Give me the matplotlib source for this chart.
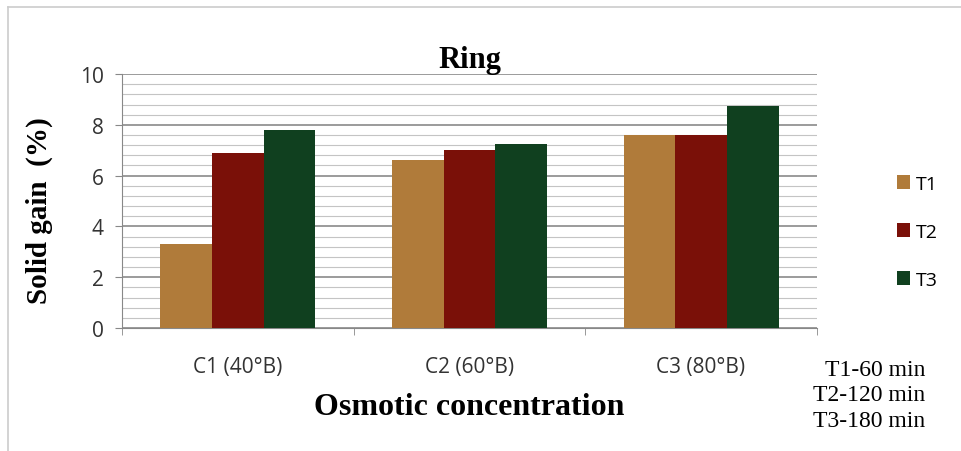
import numpy as np
import matplotlib.pyplot as plt
from matplotlib.lines import Line2D
from matplotlib.ticker import MultipleLocator

categories = ['C1 (40°B)', 'C2 (60°B)', 'C3 (80°B)']
series = ['T1', 'T2', 'T3']
t1 = [3.3, 6.6, 7.6]
t2 = [6.9, 7.0, 7.6]
t3 = [7.8, 7.25, 8.75]
colors = ['#b07b3a', '#7a1008', '#10401f']

fig = plt.figure(figsize=(9.61, 4.52), dpi=100)
ax = fig.add_axes([0.127, 0.272, 0.723, 0.562])

x = np.arange(len(categories))
w = 0.223
for i, (vals, c, lab) in enumerate(zip([t1, t2, t3], colors, series)):
    ax.bar(x + (i - 1) * w, vals, w, color=c, label=lab, zorder=3)

ax.set_xlim(-0.5, 2.5)
ax.set_ylim(0, 10)
ax.yaxis.set_major_locator(MultipleLocator(2))
ax.yaxis.set_minor_locator(MultipleLocator(0.4))
ax.grid(axis='y', which='major', color='#808080', lw=1.1, zorder=0)
ax.grid(axis='y', which='minor', color='#c4c4c4', lw=0.8, zorder=0)
ax.tick_params(axis='y', which='minor', length=0)

ax.set_xticks(x)
ax.set_xticklabels(categories)
ax.set_xticks([-0.5, 0.5, 1.5, 2.5], minor=True)
ax.tick_params(axis='x', which='major', length=0, pad=20)
ax.tick_params(axis='x', which='minor', length=5, color='#888888')
ax.tick_params(axis='y', which='major', length=5, color='#888888', pad=8)
for lbl in ax.get_xticklabels() + ax.get_yticklabels():
    lbl.set_fontfamily('Open Sans')
    lbl.set_fontsize(15)
    lbl.set_color('#333333')

for s in ['top', 'right']:
    ax.spines[s].set_visible(False)
ax.spines['left'].set_color('#888888')
ax.spines['bottom'].set_color('#888888')

ax.set_title('Ring', fontfamily='Liberation Serif', fontweight='bold', fontsize=22, pad=5)
ax.set_ylabel('Solid gain  (%)', fontfamily='Liberation Serif', fontweight='bold', fontsize=21)
ax.yaxis.set_label_coords(-0.10, 0.465)
ax.set_xlabel('Osmotic concentration', fontfamily='Liberation Serif', fontweight='bold', fontsize=23, labelpad=11)

leg = fig.legend(loc='upper left', bbox_to_anchor=(0.915, 0.65), frameon=False,
                 prop={'family': 'Open Sans', 'size': 14}, handlelength=0.7, handleheight=0.7,
                 handletextpad=0.3, labelspacing=1.55)

fig.text(0.963, 0.124, 'T1-60 min\nT2-120 min\nT3-180 min', ha='right', va='center',
         fontfamily='Liberation Serif', fontsize=17, linespacing=1.26)

fig.add_artist(Line2D([8 / 961, 1], [1 - 8 / 452] * 2, transform=fig.transFigure, color='#cccccc', lw=1.2))
fig.add_artist(Line2D([8 / 961] * 2, [0, 1 - 8 / 452], transform=fig.transFigure, color='#cccccc', lw=1.2))

fig.savefig('out.png', dpi=100)
